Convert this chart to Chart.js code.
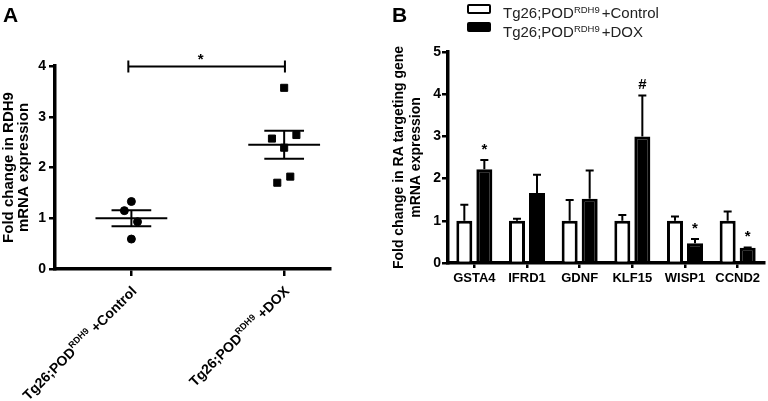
<!DOCTYPE html>
<html>
<head>
<meta charset="utf-8">
<script src="https://cdn.jsdelivr.net/npm/chart.js@4.4.1/dist/chart.umd.min.js"></script>
<style>
    html, body { margin: 0; padding: 0; background: #fff; }
    #wrap { position: relative; width: 768px; height: 401px; overflow: hidden; font-family: "Liberation Sans", Arial, sans-serif; }
    canvas { position: absolute; top: 0; }
    #chartA { left: 0; }
    #chartB { left: 380px; }
    .panel { position: absolute; top: 4px; font-weight: bold; font-size: 21px; line-height: 21px; color: #000; }
    .legBox { position: absolute; left: 467px; width: 20px; height: 6px; border: 2.5px solid #000; border-radius: 2px; }
    .legText { position: absolute; left: 503px; font-size: 15px; line-height: 15px; color: #222; white-space: nowrap; }
    .legText sup { font-size: 9.5px; line-height: 0; vertical-align: 5px; margin-right: 2px; }
</style>
</head>
<body>
<div id="wrap">
    <canvas id="chartA" width="340" height="401"></canvas>
    <canvas id="chartB" width="388" height="401"></canvas>
    <div class="panel" style="left:3px">A</div>
    <div class="panel" style="left:392px">B</div>
    <div class="legBox" style="top:4px;background:#fff"></div>
    <div class="legText" style="top:5px">Tg26;POD<sup>RDH9</sup>+Control</div>
    <div class="legBox" style="top:22px;background:#000"></div>
    <div class="legText" style="top:24px">Tg26;POD<sup>RDH9</sup>+DOX</div>
</div>
<script>
// panel A: RDH9 expression per animal
const groupNames = ['+Control', '+DOX'];
const controlValues = [1.33, 1.15, 0.93, 0.59];
const doxValues = [3.57, 2.57, 2.64, 2.39, 1.82, 1.70];
// horizontal scatter of overlapping points (x units)
const controlJitter = [0, -0.046, 0.04, 0];
const doxJitter = [0, -0.08, 0.08, 0, 0.04, -0.045];

// panel B: RA targeting genes
const genes = ['GSTA4', 'IFRD1', 'GDNF', 'KLF15', 'WISP1', 'CCND2'];
const controlMean = [1, 1, 1, 1, 1, 1];
const controlSem = [0.38, 0.05, 0.49, 0.14, 0.10, 0.22];
const doxMean = [2.22, 1.66, 1.52, 3.0, 0.47, 0.36];
const doxSem = [0.22, 0.43, 0.67, 0.97, 0.10, 0.01];
const doxMarks = ['*', '', '', '#', '*', '*'];

const FONT = '"Liberation Sans", Arial, sans-serif';

function meanSem(values) {
    const m = values.reduce((a, b) => a + b, 0) / values.length;
    const sd = Math.sqrt(values.reduce((a, b) => a + (b - m) ** 2, 0) / (values.length - 1));
    return [m, sd / Math.sqrt(values.length)];
}

function axisStyle(tickLength) {
    return {
        grid: { display: true, drawOnChartArea: false, drawTicks: true, tickLength, color: '#000', lineWidth: 2.5, offset: false },
        border: { display: true, color: '#000', width: 3.5 },
    };
}

const scatterPlugin = {
    id: 'scatterExtras',
    afterDatasetsDraw(chart) {
        const { ctx, scales: { x, y } } = chart;
        ctx.save();
        ctx.strokeStyle = '#000';
        ctx.lineWidth = 2;
        [controlValues, doxValues].forEach((vals, i) => {
            const [m, s] = meanSem(vals);
            const g = i + 1;
            const hLine = (y0, half) => {
                ctx.beginPath();
                ctx.moveTo(x.getPixelForValue(g - half), y.getPixelForValue(y0));
                ctx.lineTo(x.getPixelForValue(g + half), y.getPixelForValue(y0));
                ctx.stroke();
            };
            hLine(m, 0.235);
            hLine(m + s, 0.13);
            hLine(m - s, 0.13);
            ctx.beginPath();
            ctx.moveTo(x.getPixelForValue(g), y.getPixelForValue(m + s));
            ctx.lineTo(x.getPixelForValue(g), y.getPixelForValue(m - s));
            ctx.stroke();
        });

        // significance bar
        const by = y.getPixelForValue(4) + 0.5;
        const x1 = x.getPixelForValue(0.98);
        const x2 = x.getPixelForValue(2.005);
        ctx.beginPath();
        ctx.moveTo(x1, by); ctx.lineTo(x2, by);
        ctx.moveTo(x1, by - 6); ctx.lineTo(x1, by + 6);
        ctx.moveTo(x2, by - 6); ctx.lineTo(x2, by + 6);
        ctx.stroke();
        ctx.fillStyle = '#000';
        ctx.font = 'bold 15px ' + FONT;
        ctx.textAlign = 'center';
        ctx.textBaseline = 'alphabetic';
        ctx.fillText('*', (x1 + x2) / 2 - 6, by - 3);
        ctx.restore();
    },
    afterDraw(chart) {
        const { ctx, scales: { x, y } } = chart;
        const big = 'bold 14px ' + FONT;
        const small = 'bold 9px ' + FONT;
        groupNames.forEach((name, i) => {
            const parts = [
                { t: 'Tg26;POD', f: big, dy: 0 },
                { t: 'RDH9', f: small, dy: -6 },
                { t: ' ' + name, f: big, dy: 0 },
            ];
            let total = 0;
            parts.forEach((p) => { ctx.font = p.f; p.w = ctx.measureText(p.t).width; total += p.w; });
            ctx.save();
            ctx.translate(x.getPixelForValue(i + 1) + 6, y.bottom + 23);
            ctx.rotate(-Math.PI / 4);
            ctx.fillStyle = '#000';
            ctx.textAlign = 'left';
            ctx.textBaseline = 'alphabetic';
            let cx = -total;
            parts.forEach((p) => { ctx.font = p.f; ctx.fillText(p.t, cx, p.dy); cx += p.w; });
            ctx.restore();
        });
    },
};

new Chart(document.getElementById('chartA'), {
    type: 'scatter',
    data: {
        datasets: [
            {
                label: 'Control',
                data: controlValues.map((v, i) => ({ x: 1 + controlJitter[i], y: v })),
                pointStyle: 'circle',
                pointRadius: 4,
                backgroundColor: '#000',
                borderColor: '#000',
            },
            {
                label: 'DOX',
                data: doxValues.map((v, i) => ({ x: 2 + doxJitter[i], y: v })),
                pointStyle: 'rect',
                pointRadius: 5,
                backgroundColor: '#000',
                borderColor: '#000',
            },
        ],
    },
    options: {
        responsive: false,
        animation: false,
        events: [],
        layout: { padding: { top: 66, right: 10, left: 0, bottom: 0 } },
        plugins: { legend: { display: false }, tooltip: { enabled: false } },
        scales: {
            x: {
                type: 'linear',
                min: 0.5,
                max: 2.3,
                afterBuildTicks(scale) { scale.ticks = [{ value: 1 }, { value: 2 }]; },
                afterFit(scale) { scale.height = 132; },
                ticks: { display: false },
                ...axisStyle(7),
            },
            y: {
                min: 0,
                max: 4,
                afterFit(scale) { scale.width = 55; },
                ticks: { stepSize: 1, color: '#000', padding: 3, font: { family: FONT, size: 14, weight: 'bold' } },
                title: {
                    display: true,
                    text: ['Fold change in RDH9', 'mRNA expression'],
                    color: '#000',
                    font: { family: FONT, size: 15, weight: 'bold', lineHeight: 1.0 },
                    padding: { top: 1, bottom: 0 },
                },
                ...axisStyle(6),
            },
        },
    },
    plugins: [scatterPlugin],
});

const barPlugin = {
    id: 'barExtras',
    afterDatasetsDraw(chart) {
        const { ctx, scales: { y } } = chart;
        ctx.save();
        ctx.strokeStyle = '#000';
        ctx.fillStyle = '#000';
        ctx.lineWidth = 2;
        chart.data.datasets.forEach((ds, di) => {
            chart.getDatasetMeta(di).data.forEach((bar, j) => {
                const top = y.getPixelForValue(ds.data[j] + ds.sem[j]);
                ctx.beginPath();
                ctx.moveTo(bar.x, bar.y);
                ctx.lineTo(bar.x, top);
                ctx.moveTo(bar.x - 4, top);
                ctx.lineTo(bar.x + 4, top);
                ctx.stroke();
                const mark = ds.marks ? ds.marks[j] : '';
                if (mark) {
                    ctx.font = 'bold 15px ' + FONT;
                    ctx.textAlign = 'center';
                    ctx.textBaseline = 'alphabetic';
                    ctx.fillText(mark, bar.x, top - 6);
                }
            });
        });
        ctx.restore();
    },
};

new Chart(document.getElementById('chartB'), {
    type: 'bar',
    data: {
        labels: genes,
        datasets: [
            { label: 'Control', data: controlMean, sem: controlSem, backgroundColor: '#fff', borderColor: '#000', borderWidth: 3 },
            { label: 'DOX', data: doxMean, sem: doxSem, marks: doxMarks, backgroundColor: '#000', borderColor: '#000', borderWidth: 3 },
        ],
    },
    options: {
        responsive: false,
        animation: false,
        events: [],
        categoryPercentage: 0.76,
        barPercentage: 0.8,
        layout: { padding: { top: 52, right: 4, left: 0, bottom: 0 } },
        plugins: { legend: { display: false }, tooltip: { enabled: false } },
        scales: {
            x: {
                afterFit(scale) { scale.height = 138; },
                ticks: { color: '#000', padding: 3, maxRotation: 0, font: { family: FONT, size: 13, weight: 'bold' } },
                ...axisStyle(5),
            },
            y: {
                min: 0,
                max: 5,
                afterFit(scale) { scale.width = 68; },
                ticks: { stepSize: 1, color: '#000', padding: 1, font: { family: FONT, size: 14, weight: 'bold' } },
                title: {
                    display: true,
                    text: ['Fold change in RA targeting gene', 'mRNA expression'],
                    color: '#000',
                    font: { family: FONT, size: 14, weight: 'bold', lineHeight: 1.2 },
                    padding: { top: 10.6, bottom: 0 },
                },
                ...axisStyle(6),
            },
        },
    },
    plugins: [barPlugin],
});
</script>
</body>
</html>
